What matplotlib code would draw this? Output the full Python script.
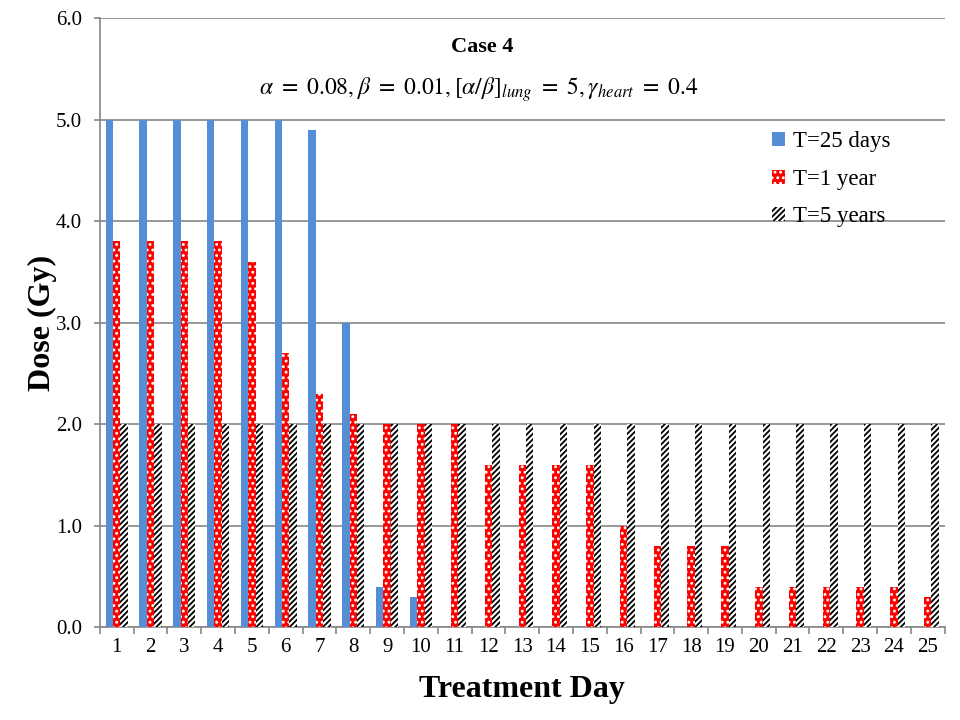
import matplotlib.pyplot as plt
import numpy as np

plt.rcParams["font.family"] = ["Liberation Serif", "DejaVu Serif"]
plt.rcParams["mathtext.fontset"] = "stix"
plt.rcParams["hatch.linewidth"] = 1.3

days = list(range(1, 26))
dose_25days = [5.0, 5.0, 5.0, 5.0, 5.0, 5.0, 4.9, 3.0, 0.4, 0.3,
               0, 0, 0, 0, 0, 0, 0, 0, 0, 0, 0, 0, 0, 0, 0]
dose_1year = [3.8, 3.8, 3.8, 3.8, 3.6, 2.7, 2.3, 2.1, 2.0, 2.0,
              2.0, 1.6, 1.6, 1.6, 1.6, 1.0, 0.8, 0.8, 0.8, 0.4,
              0.4, 0.4, 0.4, 0.4, 0.3]
dose_5years = [2.0] * 25

fig = plt.figure(figsize=(9.6, 7.2), dpi=100)
ax = fig.add_axes([0.104, 0.129, 0.88, 0.846])
ax.set_axisbelow(True)

x = np.arange(len(days))
w = 0.22
ax.bar(x - w, dose_25days, w, color="#558ed5", label="T=25 days", zorder=3)
ax.bar(x, dose_1year, w, color="#ff0000", edgecolor="white", hatch="...",
       linewidth=0, label="T=1 year", zorder=3)
ax.bar(x + w, dose_5years, w, color="white", edgecolor="black", hatch="//////",
       linewidth=0, label="T=5 years", zorder=3)

ax.set_xlim(-0.5, len(days) - 0.5)
ax.set_ylim(0, 6)
ax.set_yticks(np.arange(0, 6.01, 1.0))
ax.set_yticklabels([f"{v:.1f}" for v in np.arange(0, 6.01, 1.0)])
ax.set_xticks(x)
ax.set_xticklabels([str(d) for d in days])
ax.set_xticks(np.arange(-0.5, len(days), 1.0), minor=True)
ax.tick_params(axis="x", which="major", length=0, labelsize=15, pad=8)
ax.tick_params(axis="x", which="minor", length=5, width=1.2, color="#868686")
ax.tick_params(axis="y", length=4, width=1.2, color="#868686", labelsize=15, pad=9)
ax.yaxis.grid(True, color="#868686", linewidth=1.2)

for s in ["top", "right"]:
    ax.spines[s].set_visible(False)
for s in ["left", "bottom"]:
    ax.spines[s].set_color("#868686")
    ax.spines[s].set_linewidth(1.2)

ax.set_ylabel("Dose (Gy)", fontsize=23, fontweight="bold", labelpad=-1)
ax.set_xlabel("Treatment Day", fontsize=23, fontweight="bold", labelpad=13)

ax.text(0.452, 0.952, "Case 4", transform=ax.transAxes, ha="center",
        va="center", fontsize=16, fontweight="bold")
ax.text(0.449, 0.883,
        r"$\alpha\ =\ 0.08, \beta\ =\ 0.01, [\alpha/\beta]_{lung}\ =\ 5, \gamma_{heart}\ =\ 0.4$",
        transform=ax.transAxes, ha="center", va="center", fontsize=17)

ax.legend(loc="upper left", bbox_to_anchor=(0.785, 0.829), frameon=False,
          fontsize=16.5, handlelength=0.55, handleheight=0.55, handletextpad=0.35,
          labelspacing=0.72, borderaxespad=0)

fig.savefig("out.png", dpi=100)
